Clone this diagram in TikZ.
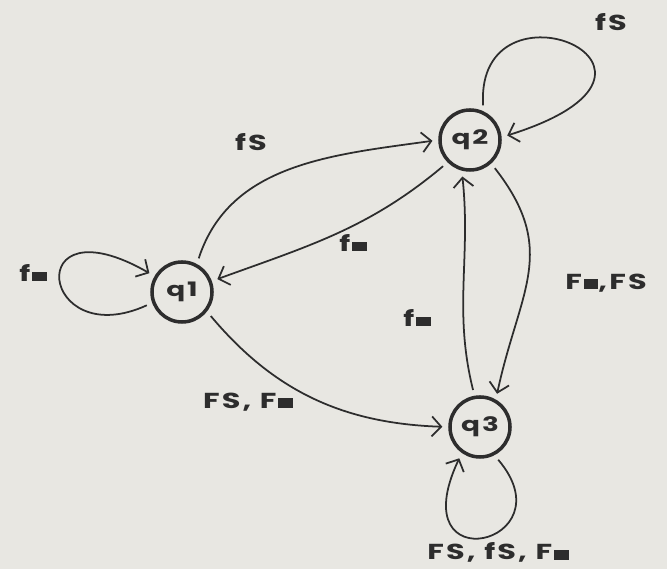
\documentclass[tikz,border=0pt]{standalone}
\usepackage{fontspec}
\setmainfont{Poppins}
\newfontfamily\handfont[FakeStretch=1.4,LetterSpace=10]{Poppins}
\usetikzlibrary{arrows.meta}
\definecolor{paper}{RGB}{232,231,226}
\definecolor{ink}{RGB}{45,45,45}
\newcommand{\blk}{\kern0.08em\rule{0.68em}{0.46em}}

\begin{document}
\begin{tikzpicture}[x=0.03cm,y=0.03cm,
    state/.style={draw=ink,circle,line width=3pt,minimum size=1.8cm,
                  inner sep=0pt,text=ink,font=\handfont\fontsize{17}{20}\selectfont\bfseries},
    edge/.style={draw=ink,line width=1.5pt,shorten >=5pt,shorten <=5pt,
                 -{Straight Barb[length=8pt,width=17pt,line width=1.5pt]}},
    lbl/.style={text=ink,inner sep=0pt,font=\handfont\fontsize{18.5}{22}\selectfont\bfseries}]
  \useasboundingbox (0,0) rectangle (667,569);
  \fill[paper] (0,0) rectangle (667,569);
  % states
  \node[state] (q1) at (182,277) {q1};
  \node[state] (q2) at (470,429) {q2};
  \node[state] (q3) at (480,142) {q3};
  % transitions between states
  \draw[edge] (q1.62) to[out=72,in=188] (q2.west);
  \draw[edge] (q2.225) to[out=220,in=20] (q1.20);
  \draw[edge] (q1.-38) to[out=-50,in=178] (q3.west);
  \draw[edge] (q3.100) to[out=104,in=-84] (q2.255);
  \draw[edge] (q2.-48) to[out=-52,in=78,looseness=1.2] (q3.60);
  % self loops
  \draw[edge] (q1.200) .. controls (40,215) and (20,370) .. (q1.150);
  \draw[edge] (q2.65) .. controls (475,600) and (720,500) .. (q2.5);
  \draw[edge] (q3.-63) .. controls (570,25) and (400,-15) .. (q3.235);
  % labels
  \node[lbl] (l11) at (33,296) {f\blk};
  \node[lbl] (l12) at (251,427) {fS};
  \node[lbl] (l21) at (353,326) {f\blk};
  \node[lbl] (l13) at (248,167) {FS, F\blk};
  \node[lbl] (l32) at (417,251) {f\blk};
  \node[lbl] (l23) at (606,286) {F\blk,FS};
  \node[lbl] (l22) at (611,547) {fS};
  \node[lbl,anchor=base] (l33) at (498,9) {FS, fS, F\blk};
\end{tikzpicture}
\end{document}
